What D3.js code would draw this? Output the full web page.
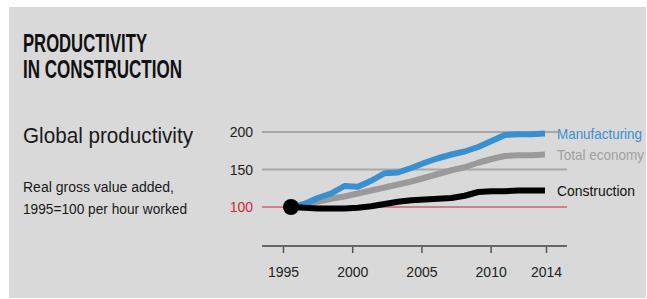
<!DOCTYPE html>
<html>
<head>
<meta charset="utf-8">
<script src="https://cdn.jsdelivr.net/npm/d3@7"></script>
<style>
  body { margin: 0; background: #fff; }
  svg { display: block; font-family: "Liberation Sans Narrow", "Liberation Sans", Arial, sans-serif; }
</style>
</head>
<body>
<div id="chart"></div>
<script>
(function(){

    // data
    var years = [1995,1996,1997,1998,1999,2000,2001,2002,2003,2004,2005,2006,2007,2008,2009,2010,2011,2012,2013,2014];
    var manufacturing = [100,104,112,118,128,127,135,145,146,152,159,165,170,174,180,188,196,197,197,198];
    var totalEconomy = [100,103,107,111,114,118,122,126,130,134,139,144,149,153,159,164,168,169,169,170];
    var construction = [100,99,98,98,98,99,101,104,107,109,110,111,112,115,120,121,121,122,122,122];
    var yTicks = [100,150,200];
    var xTicks = [1995,2000,2005,2010,2014];
    var seriesNames = ["Manufacturing","Total economy","Construction"];

    var width = 647,
        height = 299;

    var svg = d3.select("#chart")
        .append("svg")
        .attr("width",width)
        .attr("height",height);

    // panel background
    svg.append("rect")
        .attr("x",9)
        .attr("y",7)
        .attr("width",637)
        .attr("height",291)
        .attr("fill","#d9d9d9");

    // titles
    svg.append("text")
        .attr("x",23).attr("y",52)
        .attr("font-size",26.5).attr("font-weight","bold")
        .attr("font-family","'Liberation Sans', Arial, sans-serif")
        .attr("textLength",124).attr("lengthAdjust","spacingAndGlyphs")
        .attr("fill","#111")
        .text("PRODUCTIVITY");
    svg.append("text")
        .attr("x",23).attr("y",78)
        .attr("font-size",26.5).attr("font-weight","bold")
        .attr("font-family","'Liberation Sans', Arial, sans-serif")
        .attr("textLength",159).attr("lengthAdjust","spacingAndGlyphs")
        .attr("fill","#111")
        .text("IN CONSTRUCTION");
    svg.append("text")
        .attr("x",23).attr("y",143)
        .attr("font-size",22)
        .attr("textLength",170).attr("lengthAdjust","spacingAndGlyphs")
        .attr("fill","#1a1a1a")
        .text("Global productivity");
    svg.append("text")
        .attr("x",23).attr("y",192)
        .attr("font-size",14)
        .attr("textLength",151).attr("lengthAdjust","spacingAndGlyphs")
        .attr("fill","#1a1a1a")
        .text("Real gross value added,");
    svg.append("text")
        .attr("x",23).attr("y",214)
        .attr("font-size",14)
        .attr("textLength",164).attr("lengthAdjust","spacingAndGlyphs")
        .attr("fill","#1a1a1a")
        .text("1995=100 per hour worked");

    // scales: axis ticks and drawn lines sit slightly apart in the original
    var xAxisScale = d3.scaleLinear().domain([1995,2014]).range([283,546]);
    var x = d3.scaleLinear().domain([1995,2014]).range([291,545]);
    var y = d3.scaleLinear().domain([100,200]).range([207,132]);

    // gridlines
    svg.selectAll(".grid")
        .data(yTicks)
        .enter()
        .append("line")
        .attr("class","grid")
        .attr("x1",262)
        .attr("x2",function(d){ return d == 200 ? 558 : 567; })
        .attr("y1",function(d){ return y(d); })
        .attr("y2",function(d){ return y(d); })
        .attr("stroke",function(d){ return d == 100 ? "#c8283a" : "#a8a8a8"; })
        .attr("stroke-width",function(d){ return d == 100 ? 1.2 : 2; });

    svg.selectAll(".ylab")
        .data(yTicks)
        .enter()
        .append("text")
        .attr("class","ylab")
        .attr("x",253)
        .attr("y",function(d){ return y(d) + 5; })
        .attr("text-anchor","end")
        .attr("font-size",14)
        .attr("fill",function(d){ return d == 100 ? "#d0283a" : "#222"; })
        .text(function(d){ return d; });

    // x axis
    var xAxis = d3.axisBottom(xAxisScale)
        .tickValues(xTicks)
        .tickFormat(d3.format("d"))
        .tickSize(7)
        .tickPadding(14);
    var gx = svg.append("g")
        .attr("transform","translate(0,246)")
        .call(xAxis);
    gx.select(".domain").remove();
    gx.append("line")
        .attr("x1",262).attr("x2",567)
        .attr("stroke","#666").attr("stroke-width",2);
    gx.selectAll(".tick line").attr("stroke","#555").attr("stroke-width",1.5);
    gx.selectAll(".tick text")
        .attr("fill","#222")
        .attr("font-size",14)
        .attr("font-family","'Liberation Sans Narrow', 'Liberation Sans', sans-serif");

    // lines
    var line = d3.line()
        .x(function(d,i){ return x(years[i]); })
        .y(function(d){ return y(d); });

    var series = [
        {name: seriesNames[1], values: totalEconomy, color: "#9a9a9a"},
        {name: seriesNames[0], values: manufacturing, color: "#3990d0"},
        {name: seriesNames[2], values: construction, color: "#000"}
    ];

    svg.selectAll(".series")
        .data(series)
        .enter()
        .append("path")
        .attr("class","series")
        .attr("d",function(d){ return line(d.values); })
        .attr("fill","none")
        .attr("stroke",function(d){ return d.color; })
        .attr("stroke-width",6)
        .attr("stroke-linejoin","round");

    // starting dot
    svg.append("circle")
        .attr("cx",x(years[0]))
        .attr("cy",y(construction[0]))
        .attr("r",8)
        .attr("fill","#000");

    // line labels
    var labelColors = ["#3a8fd0","#a0a0a0","#111"];
    var lastValues = [manufacturing[manufacturing.length-1], totalEconomy[totalEconomy.length-1], construction[construction.length-1]];
    var labelWidths = [85, 87, 78];
    svg.selectAll(".lab")
        .data(seriesNames)
        .enter()
        .append("text")
        .attr("class","lab")
        .attr("x",557)
        .attr("y",function(d,i){ return y(lastValues[i]) + 5; })
        .attr("font-size",15)
        .attr("textLength",function(d,i){ return labelWidths[i]; })
        .attr("lengthAdjust","spacingAndGlyphs")
        .attr("fill",function(d,i){ return labelColors[i]; })
        .text(function(d){ return d; });

})();
</script>
</body>
</html>
